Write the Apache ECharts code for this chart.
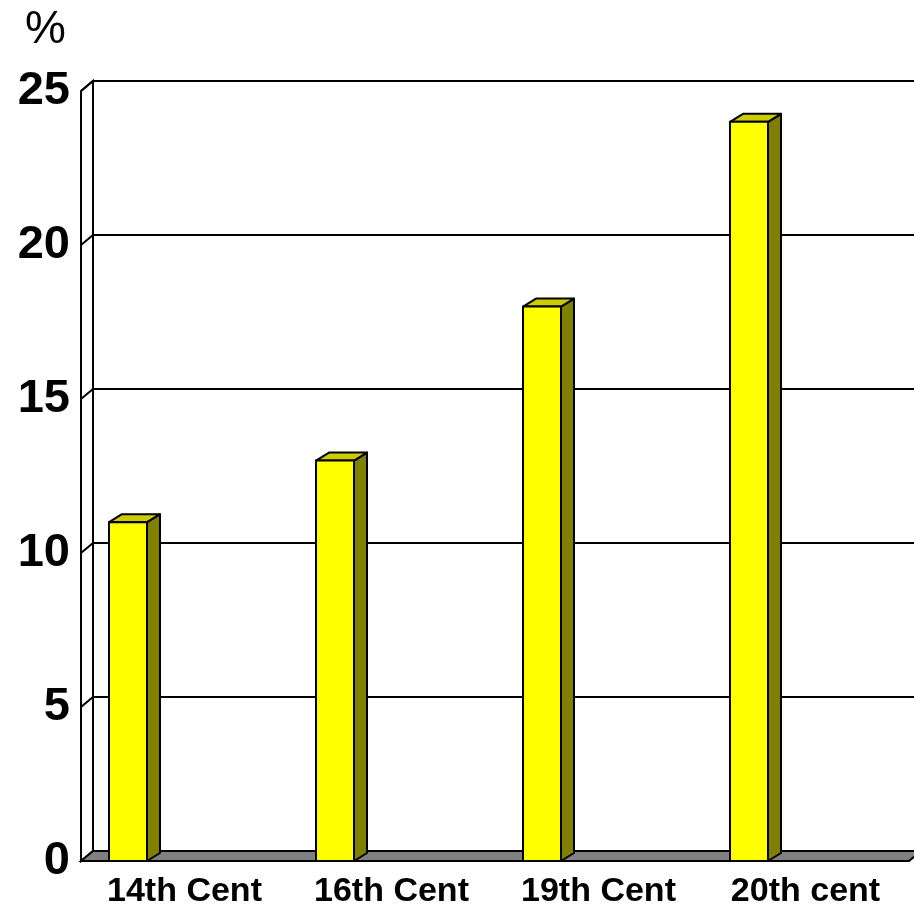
<!DOCTYPE html>
<html>
<head>
<meta charset="utf-8">
<script src="https://cdn.jsdelivr.net/npm/echarts@6/dist/echarts.min.js"></script>
<style>
  html, body { margin: 0; padding: 0; background: #fff; }
  #chart { width: 914px; height: 909px; }
</style>
</head>
<body>
<div id="chart"></div>
<script>
var categories = ['14th Cent', '16th Cent', '19th Cent', '20th cent'];
var values = [11, 13, 18, 24];
var yTicks = [0, 5, 10, 15, 20, 25];

// depth of the pseudo 3D walls and bars
var WALL_DX = 12, WALL_DY = -10;
var BAR_DX = 13, BAR_DY = -8;

function renderFrame(params, api) {
    var cs = params.coordSys;
    var left = cs.x, right = cs.x + cs.width;
    var top = api.coord([0, 25])[1];
    var bottom = api.coord([0, 0])[1];
    var children = [];

    // left side wall
    children.push({
        type: 'polygon',
        shape: { points: [[left, top], [left + WALL_DX, top + WALL_DY], [left + WALL_DX, bottom + WALL_DY], [left, bottom]] },
        style: { fill: '#fff', stroke: '#000', lineWidth: 2 }
    });
    // gridlines on back wall + diagonals on left wall
    yTicks.forEach(function (t) {
        if (t === 0) return;
        var y = api.coord([0, t])[1];
        children.push({
            type: 'polyline',
            shape: { points: [[left, y], [left + WALL_DX, y + WALL_DY], [right + WALL_DX + 10, y + WALL_DY]] },
            style: { fill: null, stroke: '#000', lineWidth: 2 }
        });
    });
    // floor
    children.push({
        type: 'polygon',
        shape: { points: [[left, bottom], [left + WALL_DX, bottom + WALL_DY], [right + WALL_DX, bottom + WALL_DY], [right, bottom]] },
        style: { fill: '#808080', stroke: '#000', lineWidth: 2 }
    });
    return { type: 'group', children: children };
}

function renderBar(params, api) {
    var idx = api.value(0);
    var top = api.coord([idx, api.value(1)]);
    var base = api.coord([idx, 0]);
    var band = api.size([1, 0])[0];
    var x0 = top[0] - band / 2 + 28;
    var w = 38;
    var yTop = top[1], yBot = base[1];
    var stroke = { stroke: '#000', lineWidth: 2, lineJoin: 'round' };
    return {
        type: 'group',
        children: [
            {
                type: 'polygon',
                shape: { points: [[x0 + w, yTop], [x0 + w + BAR_DX, yTop + BAR_DY], [x0 + w + BAR_DX, yBot + BAR_DY], [x0 + w, yBot]] },
                style: Object.assign({ fill: '#808000' }, stroke)
            },
            {
                type: 'polygon',
                shape: { points: [[x0, yTop], [x0 + BAR_DX, yTop + BAR_DY], [x0 + w + BAR_DX, yTop + BAR_DY], [x0 + w, yTop]] },
                style: Object.assign({ fill: '#cccc00' }, stroke)
            },
            {
                type: 'rect',
                shape: { x: x0, y: yTop, width: w, height: yBot - yTop },
                style: Object.assign({ fill: '#ffff00' }, stroke)
            }
        ]
    };
}

var chart = echarts.init(document.getElementById('chart'));
var options = {
    animation: false,
    backgroundColor: '#fff',
    title: {
        text: '%',
        left: 20,
        top: 2,
        textStyle: { fontFamily: 'Liberation Sans', fontWeight: 'normal', fontSize: 46, color: '#000' }
    },
    grid: { left: 81, right: 5, top: 91, bottom: 48 },
    xAxis: {
        type: 'category',
        data: categories,
        axisLine: { show: false },
        axisTick: { show: false },
        axisLabel: {
            margin: 14,
            fontFamily: 'Liberation Sans',
            fontWeight: 'bold',
            fontSize: 34,
            color: '#000'
        }
    },
    yAxis: {
        type: 'value',
        min: 0,
        max: 25,
        interval: 5,
        axisLine: { show: false },
        axisTick: { show: false },
        splitLine: { show: false },
        axisLabel: {
            margin: 11,
            fontFamily: 'Liberation Sans',
            fontWeight: 'bold',
            fontSize: 47,
            color: '#000'
        }
    },
    series: [
        {
            type: 'custom',
            renderItem: renderFrame,
            data: [[0, 0]],
            silent: true,
            clip: false,
            z: 1
        },
        {
            type: 'custom',
            renderItem: renderBar,
            data: values.map(function (v, i) { return [i, v]; }),
            clip: false,
            z: 2
        }
    ]
};
chart.setOption(options);
window.onresize = function () {
    chart.resize();
};
</script>
</body>
</html>
